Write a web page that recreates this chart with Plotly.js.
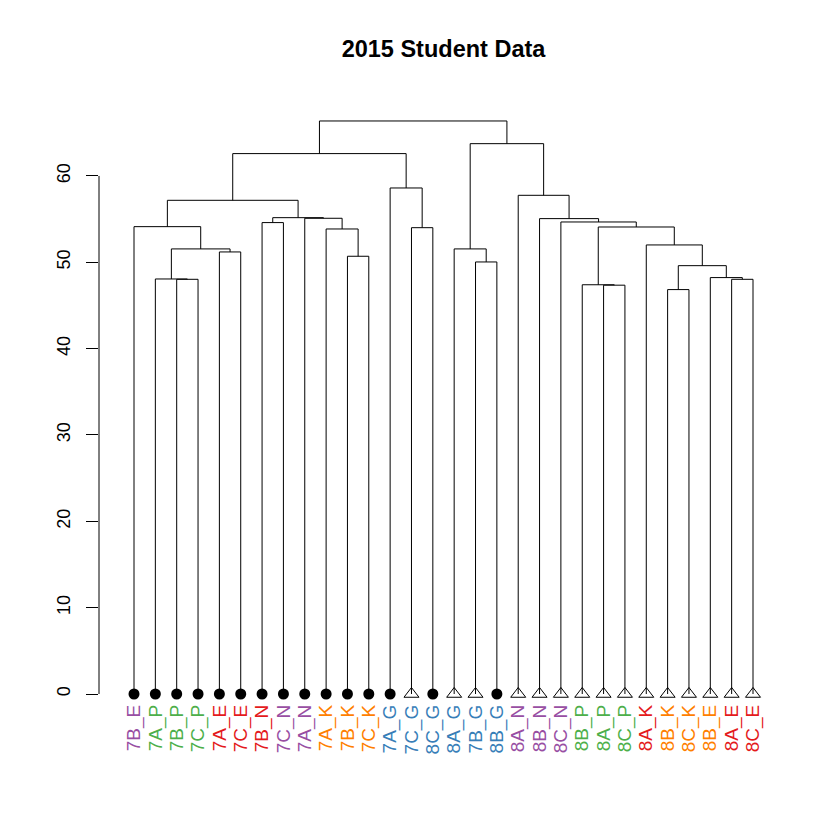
<!DOCTYPE html>
<html>
<head>
<meta charset="utf-8">
<script src="https://cdn.plot.ly/plotly-3.0.1.min.js"></script>
<style>html,body{margin:0;padding:0;background:#fff;}#chart{width:840px;height:840px;}</style>
</head>
<body>
<div id="chart"></div>
<script>
// Leaf labels in dendrogram order
const leafLabels = ["7B_E","7A_P","7B_P","7C_P","7A_E","7C_E","7B_N","7C_N","7A_N","7A_K","7B_K","7C_K","7A_G","7C_G","8C_G","8A_G","7B_G","8B_G","8A_N","8B_N","8C_N","8B_P","8A_P","8C_P","8A_K","8B_K","8C_K","8B_E","8A_E","8C_E"];
const PURPLE = "#984EA3", GREEN = "#4DAF4A", RED = "#E41A1C", ORANGE = "#FF7F00", BLUE = "#377EB8";
const leafColors = [PURPLE,GREEN,GREEN,GREEN,RED,RED,RED,PURPLE,PURPLE,ORANGE,ORANGE,ORANGE,BLUE,BLUE,BLUE,BLUE,BLUE,BLUE,PURPLE,PURPLE,PURPLE,GREEN,GREEN,GREEN,RED,ORANGE,ORANGE,ORANGE,RED,RED];
// marker type of each leaf: c = filled circle, t = open triangle
const leafMarkers = ["c","c","c","c","c","c","c","c","c","c","c","c","c","t","c","t","t","c","t","t","t","t","t","t","t","t","t","t","t","t"];
// merges: negative = leaf (1-based position), positive = earlier merge (1-based)
const mergeLeft  = [-3,-2,-5, 2,-1,-7,-11,-10,-9, 6, 5,-14,-13,11,-17,-16,-23,-22,-26,-29,-28,19,-25,18,-21,-20,-19,16,14];
const mergeRight = [-4, 1,-6, 3, 4,-8,-12,  7, 8, 9,10,-15, 12,13,-18, 15,-24, 17,-27,-30, 20,21, 22,23, 24, 25, 26,27,28];
const mergeHeight = [48.03,48.07,51.2,51.55,54.13,54.6,50.7,53.86,55.10,55.17,57.18,54.01,58.61,62.59,50.04,51.55,47.35,47.40,46.84,48.03,48.23,49.61,52.01,54.09,54.67,55.06,57.76,63.74,66.37];
const yTicks = [0,10,20,30,40,50,60];

const leafX = leafLabels.map((_, i) => i + 1);
const nodeX = [], nodeY = [];
function childPos(c) {
  if (c < 0) return [leafX[-c - 1], 0];
  return [nodeX[c - 1], nodeY[c - 1]];
}
const lx = [], ly = [];
for (let i = 0; i < mergeHeight.length; i++) {
  const [x1, y1] = childPos(mergeLeft[i]);
  const [x2, y2] = childPos(mergeRight[i]);
  const h = mergeHeight[i];
  lx.push(x1, x1, x2, x2, null);
  ly.push(y1, h, h, y2, null);
  nodeX.push((x1 + x2) / 2);
  nodeY.push(h);
}

const font = "Liberation Sans, Arial, sans-serif";
const traces = [
  { type: "scatter", mode: "lines", x: lx, y: ly, line: { color: "#000", width: 1 }, hoverinfo: "skip", showlegend: false },
  { type: "scatter", mode: "markers", x: leafX.filter((_, i) => leafMarkers[i] === "c"), y: leafX.filter((_, i) => leafMarkers[i] === "c").map(() => 0),
    marker: { symbol: "circle", size: 11, color: "#000" }, showlegend: false, cliponaxis: false },
  { type: "scatter", mode: "markers", x: leafX.filter((_, i) => leafMarkers[i] === "t"), y: leafX.filter((_, i) => leafMarkers[i] === "t").map(() => 0),
    marker: { symbol: "triangle-up-open", size: 13, color: "#000", line: { width: 1, color: "#000" } }, showlegend: false, cliponaxis: false }
];

const layout = {
  width: 840, height: 840,
  paper_bgcolor: "#fff", plot_bgcolor: "#fff",
  margin: { l: 99, r: 52, t: 98, b: 140 },
  title: { text: "<b>2015 Student Data</b>", font: { family: font, size: 23.5, color: "#000" }, x: 0.5, xref: "paper", xanchor: "center", y: 1 - 49 / 840, yref: "container", yanchor: "middle" },
  xaxis: {
    range: [-0.64, 31.64], showgrid: false, zeroline: false, showline: false, ticks: "",
    tickmode: "array", tickvals: leafX,
    ticktext: leafLabels.map((t, i) => '<span style="color:' + leafColors[i] + '">' + t + '</span>'),
    tickangle: -90, tickfont: { family: font, size: 19, color: "#000" }, fixedrange: true
  },
  yaxis: {
    range: [-0.695, 69.03], showgrid: false, zeroline: false, showline: false,
    ticks: "outside", ticklen: 12, tickwidth: 1, tickcolor: "#000",
    tickmode: "array", tickvals: yTicks, ticktext: yTicks.map(String),
    tickangle: -90, tickfont: { family: font, size: 18, color: "#000" }, ticklabelstandoff: 9, fixedrange: true
  },
  shapes: [
    { type: "line", xref: "paper", yref: "y", x0: 0, x1: 0, y0: yTicks[0], y1: yTicks[yTicks.length - 1], line: { color: "#000", width: 1 } }
  ]
};
Plotly.newPlot("chart", traces, layout, { staticPlot: true });
</script>
</body>
</html>
